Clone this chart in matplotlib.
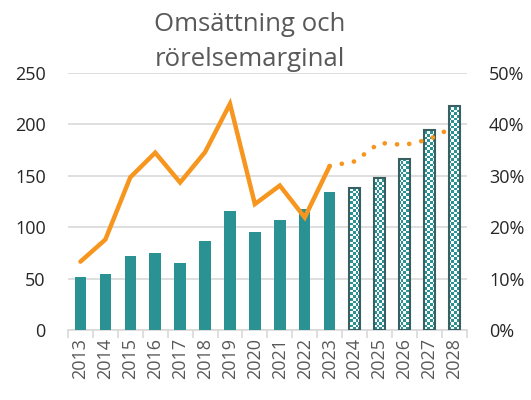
import numpy as np
import matplotlib
matplotlib.use('Agg')
import matplotlib.pyplot as plt
from matplotlib.ticker import MultipleLocator, FuncFormatter

plt.rcParams['font.family'] = ['Open Sans', 'DejaVu Sans']

# Data
years = ['2013', '2014', '2015', '2016', '2017', '2018', '2019', '2020',
         '2021', '2022', '2023', '2024', '2025', '2026', '2027', '2028']
revenue = [52, 54, 72, 75, 65, 87, 116, 95, 107, 118, 134, 138, 148, 166, 195, 218]
n_actual = 11  # 2013-2023 actual, rest forecast
margin_actual = [0.133, 0.176, 0.297, 0.345, 0.287, 0.346, 0.440, 0.245, 0.281, 0.219, 0.319]
margin_forecast = [0.319, 0.328, 0.364, 0.360, 0.371, 0.396]  # starts at 2023

teal = '#2a9292'
orange = '#f7961e'
edge_dark = '#385f61'
grid_c = '#d9d9d9'

fig = plt.figure(figsize=(5.31, 4.0), dpi=100)
ax1 = fig.add_axes([0.128, 0.175, 0.751, 0.6425])

x = np.arange(len(years))
w = 0.46

# Actual bars
ax1.bar(x[:n_actual], revenue[:n_actual], width=w, color=teal, zorder=3)

# Forecast bars: outline only, checkerboard image clipped inside each one
fc_bars = ax1.bar(x[n_actual:], revenue[n_actual:], width=w, facecolor='none',
                  edgecolor=edge_dark, linewidth=1.5, zorder=4)
cells = np.indices((96, 150)).sum(axis=0) % 2
checker = np.where(cells[..., None] == 1,
                   np.array([0x2a, 0x92, 0x92]) / 255.0,
                   np.array([1.0, 1.0, 1.0]))
for b in fc_bars:
    im = ax1.imshow(checker, extent=(-0.5, 15.5, 0, 250), origin='lower',
                    interpolation='nearest', aspect='auto', zorder=3.5)
    im.set_clip_path(b)

ax1.set_xlim(-0.5, len(years) - 0.5)
ax1.set_ylim(0, 250)
ax1.yaxis.set_major_locator(MultipleLocator(50))
ax1.grid(axis='y', color=grid_c, linewidth=1.2, zorder=0)
ax1.set_axisbelow(True)

ax1.set_xticks(x)
ax1.set_xticklabels(years, rotation=90, fontsize=13, color='#595959')
ax1.set_xticks(np.arange(-0.5, len(years)), minor=True)
ax1.tick_params(axis='x', which='major', length=0, pad=6)
ax1.tick_params(axis='x', which='minor', length=6, color=grid_c, width=1.2)
ax1.tick_params(axis='y', length=0, labelsize=13, labelcolor='#262626', pad=16)

for s in ['top', 'right', 'left']:
    ax1.spines[s].set_visible(False)
ax1.spines['bottom'].set_color(grid_c)
ax1.spines['bottom'].set_linewidth(1.2)

# Margin line on the secondary axis
ax2 = ax1.twinx()
ax2.plot(x[:n_actual], margin_actual, color=orange, linewidth=3.2,
         solid_capstyle='round', solid_joinstyle='miter', zorder=5)
ax2.plot(x[n_actual - 1:], margin_forecast, color=orange, linewidth=3.4,
         linestyle=(0, (0.01, 2.6)), dash_capstyle='round', zorder=5)
ax2.set_ylim(0, 0.5)
ax2.yaxis.set_major_locator(MultipleLocator(0.1))
ax2.yaxis.set_major_formatter(FuncFormatter(lambda v, p: f'{v * 100:.0f}%'))
ax2.tick_params(axis='y', length=0, labelsize=13, labelcolor='#262626', pad=16)
for s in ['top', 'right', 'left', 'bottom']:
    ax2.spines[s].set_visible(False)

fig.text(0.47, 0.895, 'Omsättning och\nrörelsemarginal', ha='center', va='center',
         fontsize=18.5, color='#595959', linespacing=1.5)

fig.savefig('out.png', dpi=100)
